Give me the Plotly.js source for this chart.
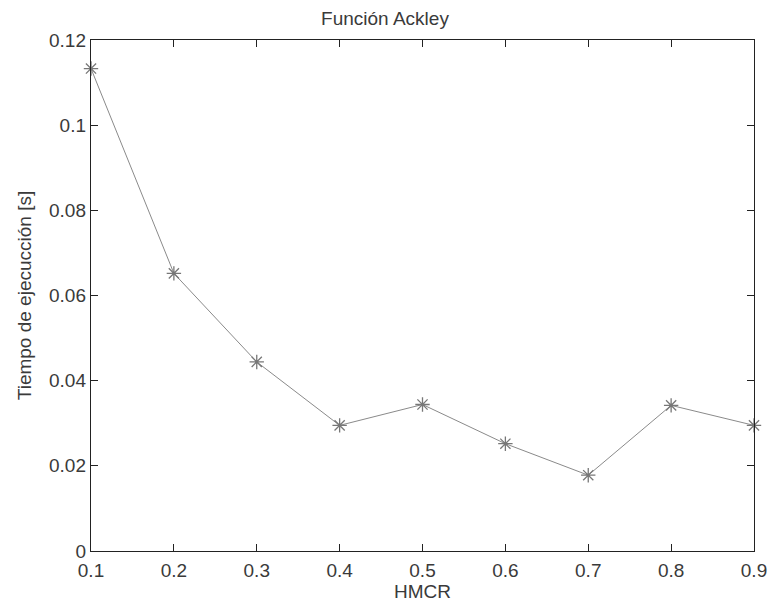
<!DOCTYPE html>
<html>
<head>
<meta charset="utf-8">
<script src="https://cdn.plot.ly/plotly-3.0.1.min.js"></script>
<style>html,body{margin:0;padding:0;background:#fff;}#chart{width:770px;height:605px;}</style>
</head>
<body>
<div id="chart"></div>
<script>
const hmcr = [0.1, 0.2, 0.3, 0.4, 0.5, 0.6, 0.7, 0.8, 0.9];
const tiempo = [0.1133, 0.0652, 0.0444, 0.0295, 0.0344, 0.0252, 0.0178, 0.0342, 0.0295];
const xTicks = [0.1, 0.2, 0.3, 0.4, 0.5, 0.6, 0.7, 0.8, 0.9];
const yTicks = [0, 0.02, 0.04, 0.06, 0.08, 0.1, 0.12];
const yTickText = ['0', '0.02', '0.04', '0.06', '0.08', '0.1', '0.12'];

const trace = {
  x: hmcr, y: tiempo, type: 'scatter', mode: 'lines+markers',
  line: {color: '#8a8a8a', width: 1},
  marker: {symbol: 'asterisk-open', size: 12, color: '#777777', line: {color: '#777777', width: 1.3}},
  cliponaxis: false, hoverinfo: 'skip'
};
const fam = 'Liberation Sans, Arial, sans-serif';
const txtColor = '#3a3a3a';
const layout = {
  width: 770, height: 605,
  margin: {l: 91, r: 16, t: 40, b: 54},
  paper_bgcolor: '#ffffff', plot_bgcolor: '#ffffff',
  showlegend: false,
  font: {family: fam, size: 19, color: txtColor},
  title: {text: 'Función Ackley', x: 0.5, xanchor: 'center', y: 0.9694, yanchor: 'middle', font: {family: fam, size: 19, color: txtColor}},
  xaxis: {
    range: [0.1, 0.9], tickvals: xTicks, ticktext: xTicks.map(String),
    ticks: 'inside', ticklen: 7, tickcolor: '#222', tickwidth: 1,
    showline: true, linecolor: '#222', linewidth: 1.2, mirror: 'ticks',
    showgrid: false, zeroline: false, tickfont: {size: 19, color: txtColor},
    ticklabelstandoff: 2,
    title: {text: 'HMCR', font: {size: 19, color: txtColor}, standoff: 4}
  },
  yaxis: {
    range: [0, 0.12], tickvals: yTicks, ticktext: yTickText,
    ticks: 'inside', ticklen: 7, tickcolor: '#222', tickwidth: 1,
    showline: true, linecolor: '#222', linewidth: 1.2, mirror: 'ticks',
    showgrid: false, zeroline: false, tickfont: {size: 19, color: txtColor},
    title: {text: 'Tiempo de ejecucción [s]', font: {size: 19, color: txtColor}, standoff: 12}
  }
};
Plotly.newPlot('chart', [trace], layout, {displayModeBar: false, staticPlot: true});
</script>
</body>
</html>
